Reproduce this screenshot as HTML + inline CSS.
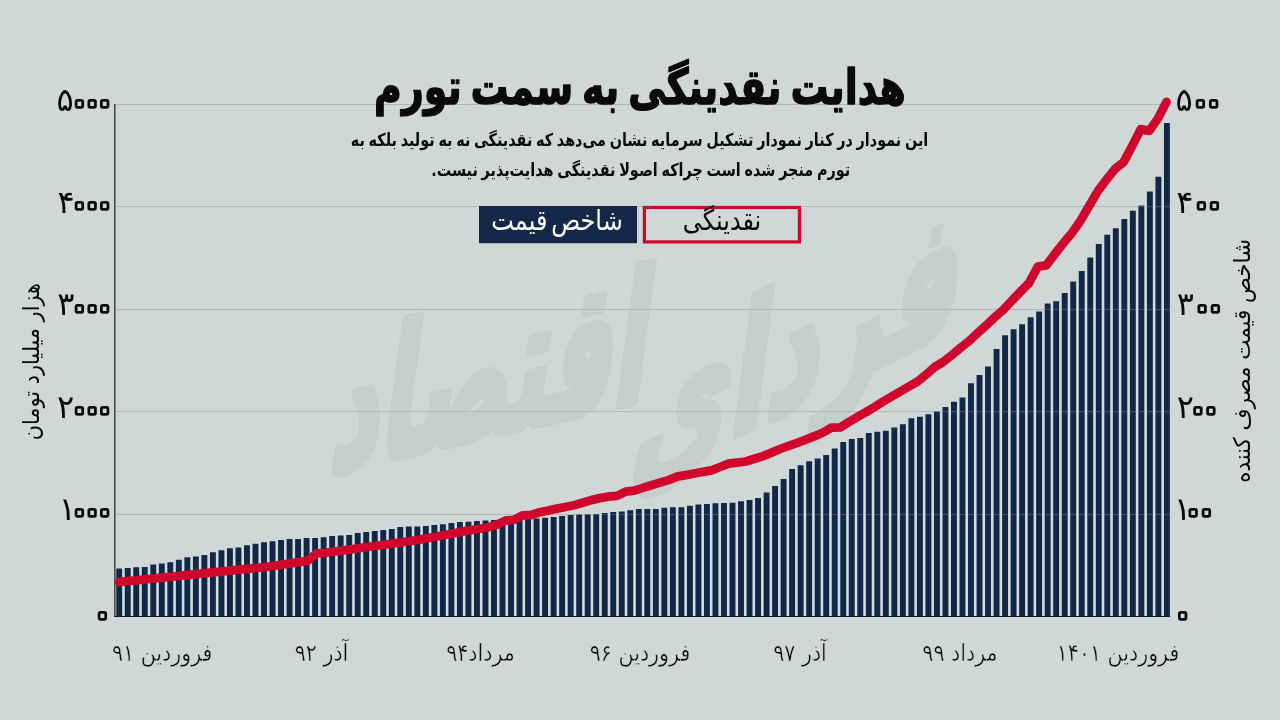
<!DOCTYPE html>
<html lang="fa"><head><meta charset="utf-8"><title>هدایت نقدینگی به سمت تورم</title>
<style>html,body{margin:0;padding:0;background:#cfd8d7;}body{width:1280px;height:720px;overflow:hidden;}svg{display:block;}text{font-family:"DejaVu Sans",sans-serif;fill:#0a0a0a;}.tk{direction:ltr;text-anchor:start;}.thin{stroke:#cfd8d7;stroke-width:0.45px;}.z{fill:#cfd8d7;stroke:#0a0a0a;stroke-width:5.6px;stroke-linejoin:round;paint-order:stroke fill;}</style></head><body>
<svg width="1280" height="720" viewBox="0 0 1280 720" direction="rtl">
<rect width="1280" height="720" fill="#cfd8d7"/>
<g font-weight="bold" text-anchor="middle" stroke="#c4cfcc" stroke-width="5" stroke-linejoin="round" style="fill:#c4cfcc"><text transform="translate(792 408) skewY(-26) skewX(-8) scale(1 1.6)" font-size="108" style="fill:#c4cfcc">فردای</text><text transform="translate(486 436) skewY(-13) skewX(-8) scale(1 1.85)" font-size="96" style="fill:#c4cfcc">اقتصاد</text></g>
<rect x="115" y="514" width="1055" height="1" fill="#b2b8b7"/>
<rect x="115" y="411" width="1055" height="1" fill="#b2b8b7"/>
<rect x="115" y="309" width="1055" height="1" fill="#b2b8b7"/>
<rect x="115" y="206" width="1055" height="1" fill="#b2b8b7"/>
<rect x="115" y="104" width="1055" height="1" fill="#b2b8b7"/>
<path fill="#d3dddb" d="M122.15 568.50h2.62V616.0h-2.62zM130.67 567.90h2.62V616.0h-2.62zM139.19 567.25h2.62V616.0h-2.62zM147.70 566.90h2.62V616.0h-2.62zM156.22 564.60h2.62V616.0h-2.62zM164.74 563.50h2.62V616.0h-2.62zM173.26 562.25h2.62V616.0h-2.62zM181.78 559.75h2.62V616.0h-2.62zM190.29 557.25h2.62V616.0h-2.62zM198.81 556.50h2.62V616.0h-2.62zM207.33 555.10h2.62V616.0h-2.62zM215.85 552.25h2.62V616.0h-2.62zM224.37 550.25h2.62V616.0h-2.62zM232.88 548.25h2.62V616.0h-2.62zM241.40 547.40h2.62V616.0h-2.62zM249.92 545.25h2.62V616.0h-2.62zM258.44 543.75h2.62V616.0h-2.62zM266.96 542.25h2.62V616.0h-2.62zM275.47 541.25h2.62V616.0h-2.62zM283.99 540.10h2.62V616.0h-2.62zM292.51 539.10h2.62V616.0h-2.62zM301.03 538.90h2.62V616.0h-2.62zM309.55 538.00h2.62V616.0h-2.62zM318.06 537.90h2.62V616.0h-2.62zM326.58 537.25h2.62V616.0h-2.62zM335.10 536.10h2.62V616.0h-2.62zM343.62 535.60h2.62V616.0h-2.62zM352.14 535.10h2.62V616.0h-2.62zM360.65 533.00h2.62V616.0h-2.62zM369.17 532.00h2.62V616.0h-2.62zM377.69 531.10h2.62V616.0h-2.62zM386.21 530.00h2.62V616.0h-2.62zM394.73 529.10h2.62V616.0h-2.62zM403.24 527.10h2.62V616.0h-2.62zM411.76 526.60h2.62V616.0h-2.62zM420.28 526.40h2.62V616.0h-2.62zM428.80 525.90h2.62V616.0h-2.62zM437.32 524.90h2.62V616.0h-2.62zM445.83 524.25h2.62V616.0h-2.62zM454.35 523.10h2.62V616.0h-2.62zM462.87 522.10h2.62V616.0h-2.62zM471.39 521.75h2.62V616.0h-2.62zM479.91 521.00h2.62V616.0h-2.62zM488.42 520.40h2.62V616.0h-2.62zM496.94 519.90h2.62V616.0h-2.62zM505.46 519.60h2.62V616.0h-2.62zM513.98 519.30h2.62V616.0h-2.62zM522.50 519.00h2.62V616.0h-2.62zM531.01 518.80h2.62V616.0h-2.62zM539.53 518.50h2.62V616.0h-2.62zM548.05 517.75h2.62V616.0h-2.62zM556.57 516.90h2.62V616.0h-2.62zM565.09 516.00h2.62V616.0h-2.62zM573.60 515.00h2.62V616.0h-2.62zM582.12 514.60h2.62V616.0h-2.62zM590.64 514.25h2.62V616.0h-2.62zM599.16 514.00h2.62V616.0h-2.62zM607.68 513.10h2.62V616.0h-2.62zM616.19 512.10h2.62V616.0h-2.62zM624.71 511.60h2.62V616.0h-2.62zM633.23 510.25h2.62V616.0h-2.62zM641.75 509.00h2.62V616.0h-2.62zM650.27 509.00h2.62V616.0h-2.62zM658.78 508.90h2.62V616.0h-2.62zM667.30 507.75h2.62V616.0h-2.62zM675.82 507.25h2.62V616.0h-2.62zM684.34 507.25h2.62V616.0h-2.62zM692.86 505.75h2.62V616.0h-2.62zM701.37 504.60h2.62V616.0h-2.62zM709.89 503.90h2.62V616.0h-2.62zM718.41 503.20h2.62V616.0h-2.62zM726.93 502.90h2.62V616.0h-2.62zM735.45 502.75h2.62V616.0h-2.62zM743.96 501.25h2.62V616.0h-2.62zM752.48 500.00h2.62V616.0h-2.62zM761.00 497.90h2.62V616.0h-2.62zM769.52 492.50h2.62V616.0h-2.62zM778.04 486.00h2.62V616.0h-2.62zM786.55 479.00h2.62V616.0h-2.62zM795.07 469.10h2.62V616.0h-2.62zM803.59 465.25h2.62V616.0h-2.62zM812.11 461.25h2.62V616.0h-2.62zM820.63 458.40h2.62V616.0h-2.62zM829.14 455.00h2.62V616.0h-2.62zM837.66 448.60h2.62V616.0h-2.62zM846.18 441.90h2.62V616.0h-2.62zM854.70 439.10h2.62V616.0h-2.62zM863.22 437.90h2.62V616.0h-2.62zM871.73 433.00h2.62V616.0h-2.62zM880.25 431.70h2.62V616.0h-2.62zM888.77 430.70h2.62V616.0h-2.62zM897.29 427.50h2.62V616.0h-2.62zM905.81 424.30h2.62V616.0h-2.62zM914.32 418.20h2.62V616.0h-2.62zM922.84 416.80h2.62V616.0h-2.62zM931.36 414.30h2.62V616.0h-2.62zM939.88 411.50h2.62V616.0h-2.62zM948.40 407.10h2.62V616.0h-2.62zM956.91 401.80h2.62V616.0h-2.62zM965.43 397.40h2.62V616.0h-2.62zM973.95 383.30h2.62V616.0h-2.62zM982.47 375.10h2.62V616.0h-2.62zM990.99 366.40h2.62V616.0h-2.62zM999.50 349.00h2.62V616.0h-2.62zM1008.02 335.20h2.62V616.0h-2.62zM1016.54 329.30h2.62V616.0h-2.62zM1025.06 324.20h2.62V616.0h-2.62zM1033.58 317.20h2.62V616.0h-2.62zM1042.09 311.60h2.62V616.0h-2.62zM1050.61 303.40h2.62V616.0h-2.62zM1059.13 301.30h2.62V616.0h-2.62zM1067.65 293.10h2.62V616.0h-2.62zM1076.17 281.60h2.62V616.0h-2.62zM1084.68 271.10h2.62V616.0h-2.62zM1093.20 257.40h2.62V616.0h-2.62zM1101.72 244.00h2.62V616.0h-2.62zM1110.24 234.70h2.62V616.0h-2.62zM1118.76 228.30h2.62V616.0h-2.62zM1127.27 218.90h2.62V616.0h-2.62zM1135.79 210.70h2.62V616.0h-2.62zM1144.31 205.60h2.62V616.0h-2.62zM1152.83 191.60h2.62V616.0h-2.62zM1161.35 176.70h2.62V616.0h-2.62z"/>
<path fill="#122848" d="M116.25 568.50h5.90V617.0h-5.90zM124.77 567.90h5.90V617.0h-5.90zM133.29 567.25h5.90V617.0h-5.90zM141.80 566.90h5.90V617.0h-5.90zM150.32 564.60h5.90V617.0h-5.90zM158.84 563.50h5.90V617.0h-5.90zM167.36 562.25h5.90V617.0h-5.90zM175.88 559.75h5.90V617.0h-5.90zM184.39 557.25h5.90V617.0h-5.90zM192.91 556.50h5.90V617.0h-5.90zM201.43 555.10h5.90V617.0h-5.90zM209.95 552.25h5.90V617.0h-5.90zM218.47 550.25h5.90V617.0h-5.90zM226.98 548.25h5.90V617.0h-5.90zM235.50 547.40h5.90V617.0h-5.90zM244.02 545.25h5.90V617.0h-5.90zM252.54 543.75h5.90V617.0h-5.90zM261.06 542.25h5.90V617.0h-5.90zM269.57 541.25h5.90V617.0h-5.90zM278.09 540.10h5.90V617.0h-5.90zM286.61 539.10h5.90V617.0h-5.90zM295.13 538.90h5.90V617.0h-5.90zM303.65 538.00h5.90V617.0h-5.90zM312.16 537.90h5.90V617.0h-5.90zM320.68 537.25h5.90V617.0h-5.90zM329.20 536.10h5.90V617.0h-5.90zM337.72 535.60h5.90V617.0h-5.90zM346.24 535.10h5.90V617.0h-5.90zM354.75 533.00h5.90V617.0h-5.90zM363.27 532.00h5.90V617.0h-5.90zM371.79 531.10h5.90V617.0h-5.90zM380.31 530.00h5.90V617.0h-5.90zM388.83 529.10h5.90V617.0h-5.90zM397.34 527.10h5.90V617.0h-5.90zM405.86 526.60h5.90V617.0h-5.90zM414.38 526.40h5.90V617.0h-5.90zM422.90 525.90h5.90V617.0h-5.90zM431.42 524.90h5.90V617.0h-5.90zM439.93 524.25h5.90V617.0h-5.90zM448.45 523.10h5.90V617.0h-5.90zM456.97 522.10h5.90V617.0h-5.90zM465.49 521.75h5.90V617.0h-5.90zM474.01 521.00h5.90V617.0h-5.90zM482.52 520.40h5.90V617.0h-5.90zM491.04 519.90h5.90V617.0h-5.90zM499.56 519.60h5.90V617.0h-5.90zM508.08 519.30h5.90V617.0h-5.90zM516.60 519.00h5.90V617.0h-5.90zM525.11 518.80h5.90V617.0h-5.90zM533.63 518.50h5.90V617.0h-5.90zM542.15 517.75h5.90V617.0h-5.90zM550.67 516.90h5.90V617.0h-5.90zM559.19 516.00h5.90V617.0h-5.90zM567.70 515.00h5.90V617.0h-5.90zM576.22 514.60h5.90V617.0h-5.90zM584.74 514.25h5.90V617.0h-5.90zM593.26 514.00h5.90V617.0h-5.90zM601.78 513.10h5.90V617.0h-5.90zM610.29 512.10h5.90V617.0h-5.90zM618.81 511.60h5.90V617.0h-5.90zM627.33 510.25h5.90V617.0h-5.90zM635.85 508.90h5.90V617.0h-5.90zM644.37 509.00h5.90V617.0h-5.90zM652.88 508.90h5.90V617.0h-5.90zM661.40 507.75h5.90V617.0h-5.90zM669.92 507.25h5.90V617.0h-5.90zM678.44 507.25h5.90V617.0h-5.90zM686.96 505.75h5.90V617.0h-5.90zM695.47 504.60h5.90V617.0h-5.90zM703.99 503.90h5.90V617.0h-5.90zM712.51 503.20h5.90V617.0h-5.90zM721.03 502.90h5.90V617.0h-5.90zM729.55 502.75h5.90V617.0h-5.90zM738.06 501.25h5.90V617.0h-5.90zM746.58 500.00h5.90V617.0h-5.90zM755.10 497.90h5.90V617.0h-5.90zM763.62 492.50h5.90V617.0h-5.90zM772.14 486.00h5.90V617.0h-5.90zM780.65 479.00h5.90V617.0h-5.90zM789.17 469.10h5.90V617.0h-5.90zM797.69 465.25h5.90V617.0h-5.90zM806.21 461.25h5.90V617.0h-5.90zM814.73 458.40h5.90V617.0h-5.90zM823.24 455.00h5.90V617.0h-5.90zM831.76 448.60h5.90V617.0h-5.90zM840.28 441.90h5.90V617.0h-5.90zM848.80 439.10h5.90V617.0h-5.90zM857.32 437.90h5.90V617.0h-5.90zM865.83 433.00h5.90V617.0h-5.90zM874.35 431.70h5.90V617.0h-5.90zM882.87 430.70h5.90V617.0h-5.90zM891.39 427.50h5.90V617.0h-5.90zM899.91 424.30h5.90V617.0h-5.90zM908.42 418.20h5.90V617.0h-5.90zM916.94 416.80h5.90V617.0h-5.90zM925.46 414.30h5.90V617.0h-5.90zM933.98 411.50h5.90V617.0h-5.90zM942.50 407.10h5.90V617.0h-5.90zM951.01 401.80h5.90V617.0h-5.90zM959.53 397.40h5.90V617.0h-5.90zM968.05 383.30h5.90V617.0h-5.90zM976.57 375.10h5.90V617.0h-5.90zM985.09 366.40h5.90V617.0h-5.90zM993.60 349.00h5.90V617.0h-5.90zM1002.12 335.20h5.90V617.0h-5.90zM1010.64 329.30h5.90V617.0h-5.90zM1019.16 324.20h5.90V617.0h-5.90zM1027.68 317.20h5.90V617.0h-5.90zM1036.19 311.60h5.90V617.0h-5.90zM1044.71 303.40h5.90V617.0h-5.90zM1053.23 301.30h5.90V617.0h-5.90zM1061.75 293.10h5.90V617.0h-5.90zM1070.27 281.60h5.90V617.0h-5.90zM1078.78 271.10h5.90V617.0h-5.90zM1087.30 257.40h5.90V617.0h-5.90zM1095.82 244.00h5.90V617.0h-5.90zM1104.34 234.70h5.90V617.0h-5.90zM1112.86 228.30h5.90V617.0h-5.90zM1121.37 218.90h5.90V617.0h-5.90zM1129.89 210.70h5.90V617.0h-5.90zM1138.41 205.60h5.90V617.0h-5.90zM1146.93 191.60h5.90V617.0h-5.90zM1155.45 176.70h5.90V617.0h-5.90zM1163.96 122.90h5.90V617.0h-5.90z"/>
<rect x="115" y="514" width="1055" height="1" fill="#b2b8b7" opacity="0.28"/>
<rect x="115" y="411" width="1055" height="1" fill="#b2b8b7" opacity="0.28"/>
<rect x="115" y="309" width="1055" height="1" fill="#b2b8b7" opacity="0.28"/>
<rect x="115" y="206" width="1055" height="1" fill="#b2b8b7" opacity="0.28"/>
<rect x="115" y="104" width="1055" height="1" fill="#b2b8b7" opacity="0.28"/>
<rect x="114.2" y="104" width="1.3" height="513" fill="#2b3133"/>
<rect x="114.2" y="616" width="1056" height="1" fill="#101a2c"/>
<path d="M119.00 582.00 L127.59 581.14 L136.17 580.27 L144.76 579.39 L153.34 578.51 L161.93 577.63 L170.52 576.76 L179.10 575.88 L187.69 575.00 L196.27 574.12 L204.86 573.24 L213.45 572.37 L222.03 571.49 L230.62 570.61 L239.20 569.73 L247.79 568.86 L256.38 567.98 L264.96 567.06 L273.55 565.81 L282.14 564.56 L290.72 563.31 L299.31 562.06 L307.89 560.60 L316.48 553.40 L325.07 552.90 L333.65 551.71 L342.24 550.52 L350.82 549.33 L359.41 548.14 L368.00 546.94 L376.58 545.75 L385.17 544.56 L393.75 543.37 L402.34 542.18 L410.93 540.99 L419.51 539.69 L428.10 538.08 L436.68 536.46 L445.27 534.85 L453.86 533.24 L462.44 531.67 L471.03 530.19 L479.61 528.72 L488.20 527.24 L496.79 524.70 L505.37 520.60 L513.96 519.90 L522.55 515.30 L531.13 515.00 L539.72 512.27 L548.30 510.44 L556.89 508.62 L565.48 507.01 L574.06 505.25 L582.65 502.73 L591.23 500.10 L599.82 498.15 L608.41 496.71 L616.99 495.90 L625.58 491.60 L634.16 490.60 L642.75 487.89 L651.34 485.25 L659.92 482.61 L668.51 480.10 L677.09 476.70 L685.68 475.10 L694.27 473.50 L702.85 471.90 L711.44 470.30 L720.02 467.00 L728.61 463.60 L737.20 462.60 L745.78 461.50 L754.37 458.80 L762.95 456.20 L771.54 452.60 L780.13 449.00 L788.71 445.80 L797.30 442.80 L805.89 439.60 L814.47 436.20 L823.06 432.50 L831.64 427.70 L840.23 427.40 L848.82 422.10 L857.40 416.90 L865.99 412.10 L874.57 407.00 L883.16 401.44 L891.75 396.45 L900.33 391.45 L908.92 386.51 L917.50 381.65 L926.09 374.70 L934.68 367.01 L943.26 361.88 L951.85 355.09 L960.43 347.96 L969.02 341.08 L977.61 332.98 L986.19 325.38 L994.78 317.30 L1003.36 309.70 L1011.95 300.60 L1020.54 291.60 L1029.12 282.90 L1037.71 266.70 L1046.30 265.40 L1054.88 254.00 L1063.47 243.00 L1072.05 232.84 L1080.64 220.54 L1089.23 205.81 L1097.81 191.13 L1106.40 179.65 L1114.98 169.01 L1123.57 162.08 L1132.16 146.00 L1140.74 129.20 L1149.33 130.80 L1157.91 118.50 L1166.50 102.00" fill="none" stroke="#d1062d" stroke-width="8.8" stroke-linecap="round" stroke-linejoin="round"/>
<rect x="479" y="206" width="158" height="37.2" fill="#14284a"/>
<rect x="644.4" y="207.5" width="155" height="34.4" fill="none" stroke="#d1062d" stroke-width="3.2"/>
<text transform="translate(557 230) scale(0.96 1.13)" text-anchor="middle" font-size="25" word-spacing="-4" style="fill:#fff">شاخص قیمت</text>
<text transform="translate(722 230) scale(0.96 1.13)" text-anchor="middle" font-size="25">نقدینگی</text>
<text transform="translate(640 104) scale(0.861 1.12)" text-anchor="middle" font-size="44" font-weight="bold" stroke="#0a0a0a" stroke-width="1.3" stroke-linejoin="round" word-spacing="-5">هدایت نقدینگی به سمت تورم</text>
<text transform="translate(639.5 146.3) scale(0.873 1.08)" word-spacing="-1.5" text-anchor="middle" font-size="16.5" font-weight="bold">این نمودار در کنار نمودار تشکیل سرمایه نشان می‌دهد که نقدینگی نه به تولید بلکه به</text>
<text transform="translate(640.7 176.3) scale(0.873 1.08)" word-spacing="-1.5" text-anchor="middle" font-size="16.5" font-weight="bold">تورم منجر شده است چراکه اصولا نقدینگی هدایت‌پذیر نیست.</text>
<text class="tk"><tspan class="z" x="93.10" y="626.23" font-size="35.0">۰</tspan></text>
<text class="tk"><tspan class="z" x="1173.35" y="626.23" font-size="35.0">۰</tspan></text>
<text class="tk"><tspan x="58.81" y="520.10" font-size="32.0">۱</tspan><tspan class="z" x="70.10 82.70 95.30" y="523.43" font-size="35.0">۰۰۰</tspan></text>
<text class="tk"><tspan x="1173.91" y="520.10" font-size="32.0">۱</tspan><tspan class="z" x="1183.85 1197.05" y="523.43" font-size="35.0">۰۰</tspan></text>
<text class="tk"><tspan x="57.05" y="417.70" font-size="32.0">۲</tspan><tspan class="z" x="70.10 82.70 95.30" y="421.03" font-size="35.0">۰۰۰</tspan></text>
<text class="tk"><tspan x="1176.72" y="417.70" font-size="32.0">۲</tspan><tspan class="z" x="1188.40 1201.60" y="421.03" font-size="35.0">۰۰</tspan></text>
<text class="tk"><tspan x="57.32" y="315.30" font-size="32.0">۳</tspan><tspan class="z" x="70.10 82.70 95.30" y="318.63" font-size="35.0">۰۰۰</tspan></text>
<text class="tk"><tspan x="1176.81" y="315.30" font-size="32.0">۳</tspan><tspan class="z" x="1192.85 1206.05" y="318.63" font-size="35.0">۰۰</tspan></text>
<text class="tk"><tspan x="57.42" y="212.90" font-size="32.0">۴</tspan><tspan class="z" x="70.10 82.70 95.30" y="216.23" font-size="35.0">۰۰۰</tspan></text>
<text class="tk"><tspan x="1176.22" y="212.90" font-size="32.0">۴</tspan><tspan class="z" x="1191.90 1205.10" y="216.23" font-size="35.0">۰۰</tspan></text>
<text class="tk"><tspan x="56.47" y="110.50" font-size="32.0">۵</tspan><tspan class="z" x="70.10 82.70 95.30" y="113.83" font-size="35.0">۰۰۰</tspan></text>
<text class="tk"><tspan x="1175.59" y="110.50" font-size="32.0">۵</tspan><tspan class="z" x="1191.10 1204.30" y="113.83" font-size="35.0">۰۰</tspan></text>
<text transform="translate(162.2 660.5) scale(0.86 1)" text-anchor="middle" font-size="24" class="thin">فروردین ۹۱</text>
<text transform="translate(321.5 660.5) scale(0.86 1)" text-anchor="middle" font-size="24" class="thin">آذر ۹۲</text>
<text transform="translate(480.5 660.5) scale(0.86 1)" text-anchor="middle" font-size="24" class="thin">مرداد۹۴</text>
<text transform="translate(640.0 660.5) scale(0.86 1)" text-anchor="middle" font-size="24" class="thin">فروردین ۹۶</text>
<text transform="translate(800.0 660.5) scale(0.86 1)" text-anchor="middle" font-size="24" class="thin">آذر ۹۷</text>
<text transform="translate(960.0 660.5) scale(0.86 1)" text-anchor="middle" font-size="24" class="thin">مرداد ۹۹</text>
<text transform="translate(1118.0 660.5) scale(0.86 1)" text-anchor="middle" font-size="24" class="thin">فروردین ۱۴۰۱</text>
<text transform="translate(38.5 361.7) rotate(-90) scale(0.906 1)" text-anchor="middle" font-size="23">هزار میلیارد تومان</text>
<text transform="translate(1250 361) rotate(-90) scale(0.93 1)" text-anchor="middle" font-size="23">شاخص قیمت مصرف کننده</text>
</svg></body></html>
